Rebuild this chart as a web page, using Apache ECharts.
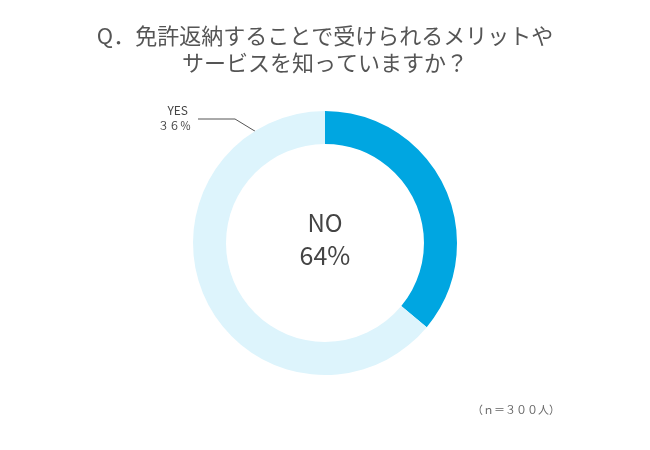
<!DOCTYPE html>
<html><head><meta charset="utf-8">
<script src="https://cdn.jsdelivr.net/npm/echarts@6/dist/echarts.min.js"></script>
<style>html,body{margin:0;padding:0;background:#fff}#c{width:650px;height:450px}</style>
</head><body><div id="c"></div>
<script>
var categories = ['YES', 'NO'];
var values = [36, 64];
var colors = ['#00A6E1', '#DDF4FC'];
var titleText = 'Q．免許返納することで受けられるメリットや\nサービスを知っていますか？';
var noteText = '（ｎ＝３００人）';
var FONT = '"Noto Sans CJK JP", "Noto Sans", sans-serif';

var chart = echarts.init(document.getElementById('c'));
chart.setOption({
  backgroundColor: '#fff',
  animation: false,
  title: {
    text: titleText,
    left: 'center', top: 17,
    textStyle: { fontFamily: FONT, fontSize: 22, fontWeight: 'normal', color: '#555', lineHeight: 27 }
  },
  series: [{
    type: 'pie',
    center: [325, 243],
    radius: [99, 132],
    startAngle: 90,
    clockwise: true,
    silent: true,
    label: { show: false },
    labelLine: { show: false },
    data: categories.map(function (c, i) {
      return { name: c, value: values[i], itemStyle: { color: colors[i] } };
    })
  }],
  graphic: [
    { type: 'text', left: 'center', top: 211, style: { text: categories[1], font: '24px ' + FONT, fill: '#444', textAlign: 'center' } },
    { type: 'text', left: 'center', top: 243, style: { text: values[1] + '%', font: '25px ' + FONT, fill: '#444', textAlign: 'center' } },
    { type: 'text', right: 462, top: 104, style: { text: categories[0], font: '12px ' + FONT, fill: '#444', textAlign: 'right' } },
    { type: 'text', right: 459, top: 120, style: { text: '３６％', font: '11px ' + FONT, fill: '#444', textAlign: 'right' } },
    { type: 'polyline', shape: { points: [[198, 119], [235, 119], [258, 133]] }, style: { stroke: '#555', lineWidth: 1, fill: null } },
    { type: 'text', right: 90, top: 404, style: { text: noteText, font: '11px ' + FONT, fill: '#666' } }
  ]
});
</script></body></html>
